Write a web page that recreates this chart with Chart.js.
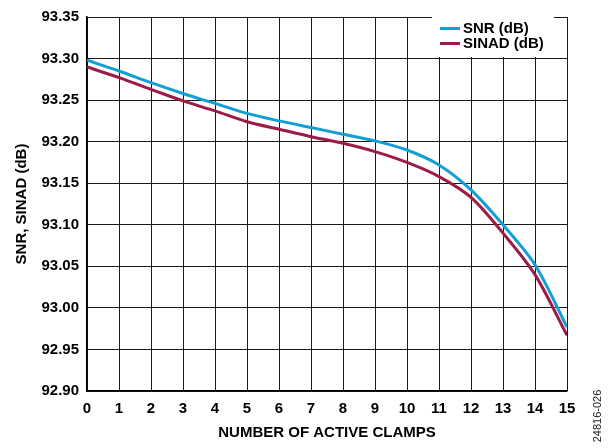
<!DOCTYPE html>
<html>
<head>
<meta charset="utf-8">
<script src="https://cdn.jsdelivr.net/npm/chart.js@4.4.1/dist/chart.umd.min.js"></script>
<style>
html,body{margin:0;padding:0;background:#fff}
#c{display:block}
</style>
</head>
<body>
<canvas id="c" width="610" height="448"></canvas>
<script>
const clamps=[0,1,2,3,4,5,6,7,8,9,10,11,12,13,14,15];
const snr=[93.298,93.285,93.271,93.258,93.246,93.234,93.225,93.217,93.209,93.201,93.190,93.172,93.142,93.100,93.052,92.977];
const sinad=[93.290,93.277,93.263,93.249,93.237,93.224,93.215,93.206,93.198,93.188,93.175,93.158,93.133,93.090,93.040,92.967];
const yTicks=[92.90,92.95,93.00,93.05,93.10,93.15,93.20,93.25,93.30,93.35];
const figId='24816-026';

const BLUE='#129fd6', RED='#9c1b47';
Chart.defaults.font.family='"Liberation Sans", Arial, sans-serif';
Chart.defaults.color='#000';

const pts=vals=>clamps.map((x,i)=>({x:x,y:vals[i]}));

// legend box in the top-right corner, painted over the grid
const boxLegend={
  id:'boxLegend',
  afterDraw(chart){
    const ctx=chart.ctx;
    ctx.save();
    ctx.fillStyle='#fff';
    ctx.fillRect(432,17,122,40);
    ctx.font='bold 15px "Liberation Sans", Arial, sans-serif';
    ctx.textBaseline='middle';
    chart.data.datasets.forEach((ds,i)=>{
      const y=28.5+i*15;
      ctx.strokeStyle=ds.borderColor;
      ctx.lineWidth=3;
      ctx.beginPath();ctx.moveTo(440,y);ctx.lineTo(460,y);ctx.stroke();
      ctx.fillStyle='#000';
      ctx.fillText(ds.label,463,y);
    });
    // figure number on the right margin
    ctx.translate(598,416);
    ctx.rotate(-Math.PI/2);
    ctx.font='11px "Liberation Sans", Arial, sans-serif';
    ctx.textAlign='center';
    ctx.fillStyle='#222';
    ctx.fillText(figId,0,0);
    ctx.restore();
  }
};

new Chart(document.getElementById('c'),{
  type:'line',
  data:{datasets:[
    {label:'SNR (dB)',data:pts(snr),borderColor:BLUE,borderWidth:3,pointRadius:0,tension:0.3,fill:false},
    {label:'SINAD (dB)',data:pts(sinad),borderColor:RED,borderWidth:3,pointRadius:0,tension:0.3,fill:false}
  ]},
  options:{
    responsive:false,
    devicePixelRatio:1,
    animation:false,
    layout:{padding:{top:7,right:43,left:0,bottom:0}},
    plugins:{legend:{display:false},tooltip:{enabled:false}},
    scales:{
      x:{
        type:'linear',min:0,max:15,
        afterBuildTicks:s=>{s.ticks=clamps.map(v=>({value:v}));},
        afterFit:s=>{s.height=57;},
        grid:{color:'#1a1a1a',lineWidth:1,drawTicks:false},
        border:{display:true,color:'#000',width:1.5},
        ticks:{padding:9,font:{size:15,weight:'bold'},maxRotation:0,autoSkip:false},
        title:{display:true,text:'NUMBER OF ACTIVE CLAMPS',font:{size:15,weight:'bold'},padding:6}
      },
      y:{
        min:92.9,max:93.35,
        afterBuildTicks:s=>{s.ticks=yTicks.map(v=>({value:v}));},
        afterFit:s=>{s.width=87;},
        grid:{color:'#1a1a1a',lineWidth:1,drawTicks:false},
        border:{display:true,color:'#000',width:1.5},
        ticks:{padding:8,font:{size:15,weight:'bold'},callback:v=>Number(v).toFixed(2)},
        title:{display:true,text:'SNR, SINAD (dB)',font:{size:15,weight:'bold'},padding:13}
      }
    }
  },
  plugins:[boxLegend]
});
</script>
</body>
</html>
